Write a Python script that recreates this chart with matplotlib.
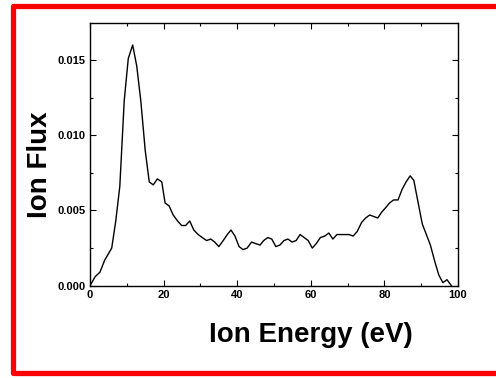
import numpy as np
import matplotlib
matplotlib.use('Agg')
import matplotlib.pyplot as plt
from matplotlib.lines import Line2D
from matplotlib.ticker import MultipleLocator

# ion energy distribution
energy = [0, 1.4, 2.7, 4, 5.9, 7, 8.1, 9.3, 10.4, 11.6, 12.7, 13.8, 15, 16.1, 17.2,
          18.3, 19.5, 20.4, 21.5, 22.6, 23.8, 24.9, 26, 27.1, 28.2, 29.4, 30.5, 31.7,
          32.8, 33.9, 35, 36.2, 37.3, 38.3, 39.4, 40.5, 41.6, 42.7, 43.9, 45, 46.2,
          47.2, 48.3, 49.4, 50.5, 51.6, 52.7, 53.8, 54.9, 56, 57.1, 58.2, 59.3, 60.4,
          61.5, 62.6, 63.8, 64.9, 66, 67.1, 68.2, 69.3, 70.4, 71.5, 72.6, 73.8, 74.9,
          76, 77.1, 78.2, 79.3, 80.4, 81.4, 82.5, 83.7, 84.8, 85.9, 87, 88, 89.1, 90.3,
          91.4, 92.5, 93.7, 94.8, 95.9, 97, 98.2]
flux = [0.0, 0.0006, 0.0009, 0.0017, 0.0025, 0.0043, 0.0066, 0.0123, 0.0151, 0.0160,
        0.0146, 0.0123, 0.0090, 0.0069, 0.0067, 0.0071, 0.0069, 0.0055, 0.0053, 0.0047,
        0.0043, 0.0040, 0.0040, 0.0043, 0.0037, 0.0034, 0.0032, 0.0030, 0.0031, 0.0029,
        0.0026, 0.0030, 0.0034, 0.0037, 0.0033, 0.0026, 0.0024, 0.0025, 0.0029, 0.0028,
        0.0027, 0.0030, 0.0032, 0.0031, 0.0026, 0.0027, 0.0030, 0.0031, 0.0029, 0.0030,
        0.0034, 0.0032, 0.0030, 0.0025, 0.0028, 0.0032, 0.0033, 0.0035, 0.0031, 0.0034,
        0.0034, 0.0034, 0.0034, 0.0033, 0.0036, 0.0042, 0.0045, 0.0047, 0.0046, 0.0045,
        0.0049, 0.0052, 0.0055, 0.0057, 0.0057, 0.0064, 0.0069, 0.0073, 0.0070, 0.0056,
        0.0041, 0.0034, 0.0027, 0.0016, 0.0007, 0.0002, 0.0004, 0.0000]

plt.rcParams['font.family'] = ['Liberation Sans', 'DejaVu Sans']

W, H = 496, 378
fig = plt.figure(figsize=(W / 100, H / 100), dpi=100)
ax = fig.add_axes([90 / W, 1 - 285.7 / H, 368 / W, 263 / H])

ax.plot(energy, flux, color='black', lw=1.0)
ax.set_xlim(0, 100)
ax.set_ylim(0, 0.01748)
ax.xaxis.set_major_locator(MultipleLocator(20))
ax.xaxis.set_minor_locator(MultipleLocator(10))
ax.yaxis.set_major_locator(MultipleLocator(0.005))
ax.yaxis.set_minor_locator(MultipleLocator(0.0025))
ax.yaxis.set_major_formatter(plt.FormatStrFormatter('%.3f'))
ax.tick_params(which='both', direction='in', top=True, right=True, width=0.8)
ax.tick_params(which='major', length=4, labelsize=8, pad=3)
ax.tick_params(which='minor', length=2.5)
for lab in ax.get_xticklabels() + ax.get_yticklabels():
    lab.set_fontweight('bold')
for s in ax.spines.values():
    s.set_linewidth(1.0)

# axis titles placed like in the original
fig.text(311 / W, 1 - 335 / H, 'Ion Energy (eV)', ha='center', va='center',
         fontsize=20, fontweight='bold')
fig.text(40 / W, 1 - 165 / H, 'Ion Flux', ha='center', va='center',
         fontsize=20, fontweight='bold', rotation=90)

# red frame (open on the right)
bx = [(W + 10) / W, 12.5 / W, 12.5 / W, (W + 10) / W]
by = [1 - 5.5 / H, 1 - 5.5 / H, 1 - 373 / H, 1 - 373 / H]
fig.add_artist(Line2D(bx, by, transform=fig.transFigure, color='red', lw=3.8,
                      solid_joinstyle='round'))

fig.savefig('out.png', dpi=100)
